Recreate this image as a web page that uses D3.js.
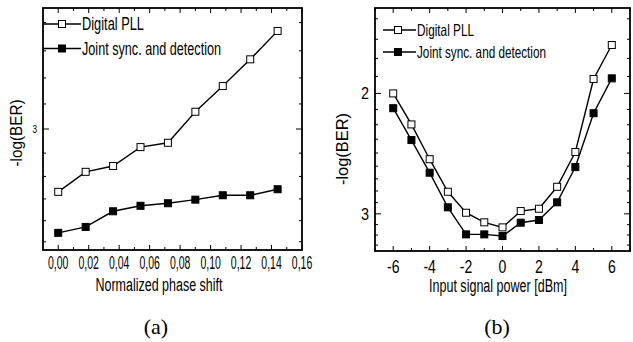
<!DOCTYPE html>
<html><head><meta charset="utf-8">
<script src="https://cdn.jsdelivr.net/npm/d3@7"></script>
<style>
html,body{margin:0;padding:0;background:#fff;}
svg{display:block;}
text{font-family:"Liberation Sans",Arial,sans-serif;fill:#000;}
text.serif{font-family:"Liberation Serif","Times New Roman",serif;}
</style></head>
<body>
<svg id="chart" width="633" height="342"></svg>
<script>
// ---------- data ----------
const phaseShift = [0, 0.018, 0.036, 0.054, 0.072, 0.09, 0.108, 0.126, 0.144];
const pllA   = [3.298, 3.200, 3.172, 3.083, 3.063, 2.923, 2.812, 2.701, 2.588];
const jointA = [3.508, 3.477, 3.396, 3.368, 3.355, 3.337, 3.315, 3.315, 3.285];

const powerDbm = [-6, -5, -4, -3, -2, -1, 0, 1, 2, 3, 4, 5, 6];
const pllB   = [2.000, 2.220, 2.496, 2.785, 2.989, 3.087, 3.140, 2.972, 2.949, 2.739, 2.436, 1.905, 1.699];
const jointB = [2.102, 2.340, 2.612, 2.935, 3.215, 3.215, 3.233, 3.091, 3.063, 2.886, 2.563, 2.138, 1.901];

const seriesNames = ["Digital PLL", "Joint sync. and detection"];
const xTicksA = [0, 0.02, 0.04, 0.06, 0.08, 0.10, 0.12, 0.14, 0.16];
const xTicksB = [-6, -4, -2, 0, 2, 4, 6];
const yMajorA = [3];
const yMajorB = [2, 3];

// ---------- helpers ----------
const svg = d3.select("#chart");
svg.append("rect").attr("width",633).attr("height",342).attr("fill","#fff");

function fixed(sel, len){
  sel.attr("textLength", len).attr("lengthAdjust","spacingAndGlyphs");
}
// Origin-style log axis minor ticks: 8 minors between majors
function logMinor(domain){
  const out = [];
  for (let m = 1; m <= 4; m++) {
    for (let k = 0; k < 9; k++) {
      const v = m + k/9;
      if (v >= domain[0] - 1e-9 && v <= domain[1] + 1e-9) out.push(v);
    }
  }
  return out;
}

function drawPanel(cfg){
  const g = svg.append("g");
  const x = cfg.x, y = cfg.y;
  const [x0, x1] = x.range(), [y0, y1] = [y.range()[0], y.range()[1]];
  const minorX = cfg.xMinor, majorX = cfg.xMajor;
  const minorY = logMinor(y.domain()), majorY = cfg.yMajor;
  const tk = g.append("g").attr("stroke","#000").attr("stroke-width",1);
  minorX.forEach(v => {
    const L = majorX.some(m => Math.abs(m-v) < 1e-9) ? 5 : 3;
    tk.append("line").attr("x1",x(v)).attr("x2",x(v)).attr("y1",y1).attr("y2",y1-L);
    tk.append("line").attr("x1",x(v)).attr("x2",x(v)).attr("y1",y0).attr("y2",y0+L);
  });
  minorY.forEach(v => {
    const L = majorY.some(m => Math.abs(m-v) < 1e-9) ? 6 : 3;
    tk.append("line").attr("x1",x0).attr("x2",x0+L).attr("y1",y(v)).attr("y2",y(v));
    tk.append("line").attr("x1",x1).attr("x2",x1-L).attr("y1",y(v)).attr("y2",y(v));
  });
  g.append("rect").attr("x",x0).attr("y",y0).attr("width",x1-x0).attr("height",y1-y0)
    .attr("fill","none").attr("stroke","#000").attr("stroke-width",1.8);
  // tick labels, horizontally condensed via transform
  g.append("g").selectAll("text").data(majorX).join("text")
    .attr("transform", d => `translate(${x(d)},${cfg.xLabelY}) scale(${cfg.xLabelCond},1)`)
    .attr("text-anchor","middle").attr("font-size", cfg.xLabelSize).text(cfg.xFmt);
  g.append("g").selectAll("text").data(majorY).join("text")
    .attr("transform", d => `translate(${x0 - cfg.yLabelGap},${y(d)}) scale(${cfg.yLabelCond},1)`)
    .attr("dy","0.35em").attr("text-anchor","end").attr("font-size", cfg.yLabelSize).text(d => d);
  const xt = g.append("text").attr("x", cfg.xTitle[0]).attr("y", cfg.xTitle[1])
    .attr("text-anchor","middle").attr("font-size",18).text(cfg.xTitleText);
  fixed(xt, cfg.xTitle[2]);
  const yt = g.append("text").attr("transform",`translate(${cfg.yTitle[0]},${cfg.yTitle[1]}) rotate(-90)`)
    .attr("text-anchor","middle").attr("font-size",17).text("-log(BER)");
  fixed(yt, cfg.yTitle[2]);
  g.append("text").attr("class","serif").attr("x", cfg.letter[0]).attr("y", cfg.letter[1])
    .attr("text-anchor","middle").attr("font-size",22).text(cfg.letterText);

  const line = d3.line().x(d => x(d[0])).y(d => y(d[1]));
  const series = [
    {vals: cfg.s1, fill: "#fff"},
    {vals: cfg.s2, fill: "#000"}
  ];
  series.forEach(s => {
    const pts = cfg.xs.map((xv,i) => [xv, s.vals[i]]);
    g.append("path").attr("d", line(pts)).attr("fill","none").attr("stroke","#000").attr("stroke-width",1.4);
    g.append("g").selectAll("rect").data(pts).join("rect")
      .attr("x", d => x(d[0]) - 3.5).attr("y", d => y(d[1]) - 3.5)
      .attr("width",7).attr("height",7).attr("fill", s.fill).attr("stroke","#000").attr("stroke-width",1);
  });

  const lg = cfg.legend;
  seriesNames.forEach((name,i) => {
    const ly = lg.ys[i];
    g.append("line").attr("x1", lg.x0).attr("x2", lg.x1).attr("y1", ly).attr("y2", ly)
      .attr("stroke","#000").attr("stroke-width",1.4);
    g.append("rect").attr("x", lg.xm - 3.5).attr("y", ly - 3.5).attr("width",7).attr("height",7)
      .attr("fill", i === 0 ? "#fff" : "#000").attr("stroke","#000").attr("stroke-width",1);
    const t = g.append("text").attr("x", lg.xt).attr("y", ly + lg.dy).attr("font-size", lg.size).text(name);
    fixed(t, lg.widths[i]);
  });
}

// ---------- panel (a) ----------
const xA = d3.scaleLinear().domain([-0.01, 0.16]).range([43, 302]);
const yA = d3.scaleLog().domain([2.5, 3.6]).range([8, 250]);
drawPanel({
  x: xA, y: yA,
  xs: phaseShift, s1: pllA, s2: jointA,
  xMinor: d3.range(0, 17).map(i => i/100),
  xMajor: xTicksA,
  yMajor: yMajorA,
  xFmt: d => d3.format(".2f")(d).replace(".", ","),
  xLabelY: 269, xLabelSize: 17.5, xLabelCond: 0.6,
  yLabelGap: 6, yLabelSize: 11, yLabelCond: 0.75,
  xTitle: [159, 291, 127], xTitleText: "Normalized phase shift",
  yTitle: [22, 133, 67],
  letter: [156, 334], letterText: "(a)",
  legend: {x0: 43, x1: 81, xm: 62, xt: 82, ys: [24, 48.5], dy: 6, size: 17.5, widths: [62, 139]}
});

// ---------- panel (b) ----------
const xB = d3.scaleLinear().domain([-7, 7]).range([375, 630]);
const yB = d3.scaleLog().domain([1.5, 3.4]).range([8, 251]);
drawPanel({
  x: xB, y: yB,
  xs: powerDbm, s1: pllB, s2: jointB,
  xMinor: d3.range(-7, 8),
  xMajor: xTicksB,
  yMajor: yMajorB,
  xFmt: d => d,
  xLabelY: 273, xLabelSize: 18, xLabelCond: 0.78,
  yLabelGap: 6, yLabelSize: 17, yLabelCond: 0.85,
  xTitle: [498, 292, 138], xTitleText: "Input signal power [dBm]",
  yTitle: [348, 149, 72],
  letter: [497, 334], letterText: "(b)",
  legend: {x0: 383, x1: 416, xm: 398, xt: 417, ys: [30, 52], dy: 6, size: 16.5, widths: [57, 129]}
});
</script>
</body></html>
